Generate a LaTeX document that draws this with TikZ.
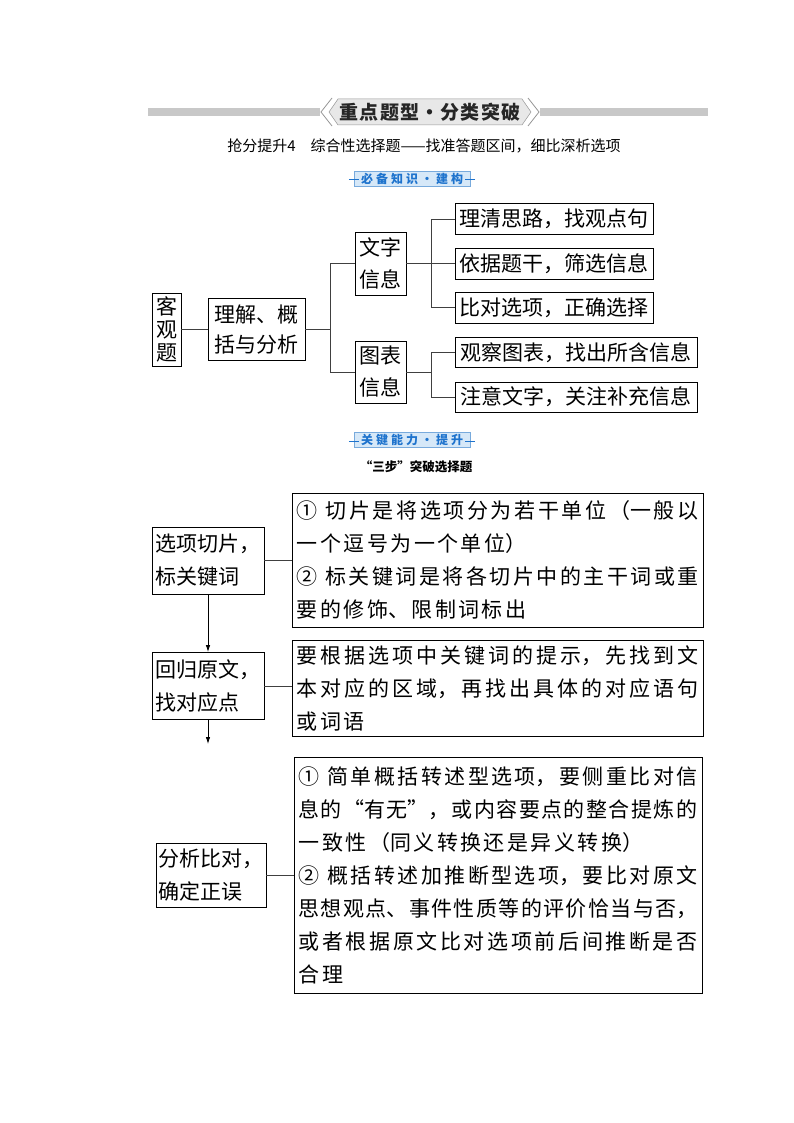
\documentclass[tikz,border=0pt]{standalone}
\usepackage{fontspec}
\newfontfamily\cjk{Noto Sans CJK SC}
\usetikzlibrary{arrows.meta}
\XeTeXlinebreaklocale "zh"
\definecolor{barg}{RGB}{200,200,200}
\definecolor{banfill}{RGB}{232,232,232}
\definecolor{banline}{RGB}{150,150,150}
\definecolor{lbfill}{RGB}{214,232,248}
\definecolor{lbline}{RGB}{120,170,220}
\definecolor{lbtext}{RGB}{30,115,205}
\newcommand\lsk[1]{\XeTeXlinebreakskip=#1\relax}
\newcommand\gp{\hspace{3pt}}
\newcommand\cs{\hspace{8pt}}
\begin{document}
\begin{tikzpicture}[x=1pt,y=-1pt,
  box/.style={draw=black, line width=0.9pt, inner sep=0pt, align=center,
    font={\cjk\fontsize{21}{23}\selectfont}},
  leaf/.style={box, minimum height=31pt},
  stepbox/.style={draw=black, line width=0.9pt, inner xsep=3.5pt, inner ysep=0pt,
    text width=105pt, minimum height=67pt, align=left,
    font={\cjk\fontsize{21}{33}\selectfont}},
  txtbox/.style={draw=black, line width=0.9pt, inner xsep=4.5pt, inner ysep=0pt,
    align=justify,
    font={\cjk\fontsize{21}{33}\selectfont\lsk{2.5pt plus 3pt minus 2pt}}},
  conn/.style={draw=black!75, line width=0.8pt},
  arr/.style={draw=black, line width=0.8pt, -{Latex[length=7pt,width=4.5pt]}},
  lbl/.style={fill=lbfill, draw=lbline, line width=0.4pt, minimum width=116pt,
    minimum height=15pt, inner sep=0pt, text=lbtext,
    font={\cjk\bfseries\fontsize{12}{12}\selectfont}}
]
\useasboundingbox (0,0) rectangle (794,1123);

% ---------- header ----------
\fill[barg] (148,108) rectangle (320,116);
\fill[barg] (540,108) rectangle (708,116);
\draw[banline, fill=banfill, line width=0.5pt] (338,99) -- (522,99) -- (531,112) -- (522,125) -- (338,125) -- (329,112) -- cycle;
\draw[banline, line width=0.8pt] (332,98) -- (321,112) -- (332,126);
\draw[banline, line width=0.8pt] (528,98) -- (539,112) -- (528,126);
\node[font={\cjk\bfseries\fontsize{19}{19}\selectfont}, text=black!85] (title) at (430,112) {重\hspace{1.2pt}点\hspace{1.2pt}题\hspace{1.2pt}型\hspace{1.2pt}·\hspace{1.2pt}分\hspace{1.2pt}类\hspace{1.2pt}突\hspace{1.2pt}破};
\node[font={\cjk\fontsize{15}{15}\selectfont}] (sub) at (424,146) {抢分提升4　综合性选择题——找准答题区间，细比深析选项};

% ---------- section 1 label ----------
\node[lbl] (lbl1) at (412,178.5) {必\gp 备\gp 知\gp 识\gp·\gp 建\gp 构};
\draw[lbtext, line width=0.6pt] ([xshift=-5pt,yshift=-1pt]lbl1.west) -- ++(10,0);
\draw[lbtext, line width=0.6pt] ([xshift=5pt,yshift=-1pt]lbl1.east) -- ++(-10,0);

% ---------- tree ----------
\node[box, minimum width=29pt, minimum height=73pt] (kg) at (166.5,329.5) {客\\观\\题};
\node[box, minimum width=97pt, minimum height=62pt, font={\cjk\fontsize{21}{30}\selectfont}] (lj) at (256.5,329.5) {理解、概\\括与分析};
\node[box, minimum width=51pt, minimum height=63pt, font={\cjk\fontsize{21}{32}\selectfont}] (wz) at (380.5,263.5) {文字\\信息};
\node[box, minimum width=51pt, minimum height=62pt, font={\cjk\fontsize{21}{32}\selectfont}] (tb) at (380.5,372) {图表\\信息};

\node[leaf, minimum width=198pt] (a1) at (554,219) {理清思路，找观点句};
\node[leaf, minimum width=198pt] (a2) at (554,263.5) {依据题干，筛选信息};
\node[leaf, minimum width=198pt] (a3) at (554,307.5) {比对选项，正确选择};
\node[leaf, minimum width=242pt, minimum height=30pt] (b1) at (576,352.5) {观察图表，找出所含信息};
\node[leaf, minimum width=242pt, minimum height=30pt] (b2) at (576,397) {注意文字，关注补充信息};

\coordinate (j1) at (330,329.5);
\coordinate (j2) at (431,263.5);
\coordinate (j3) at (431,372);
\draw[conn] (kg.east) -- (lj.west);
\draw[conn] (lj.east) -- (j1);
\draw[conn] (wz.west) -- (wz.west -| j1) -- (tb.west -| j1) -- (tb.west);
\draw[conn] (wz.east) -- (a2.west);
\draw[conn] (a1.west) -- (a1.west -| j2) -- (a3.west -| j2) -- (a3.west);
\draw[conn] (tb.east) -- (j3);
\draw[conn] (b1.west) -- (b1.west -| j3) -- (b2.west -| j3) -- (b2.west);

% ---------- section 2 label ----------
\node[lbl] (lbl2) at (412,440) {关\gp 键\gp 能\gp 力\gp·\gp 提\gp 升};
\draw[lbtext, line width=0.6pt] ([xshift=-5pt,yshift=-1pt]lbl2.west) -- ++(10,0);
\draw[lbtext, line width=0.6pt] ([xshift=5pt,yshift=-1pt]lbl2.east) -- ++(-10,0);
\node[font={\cjk\bfseries\fontsize{12.5}{12}\selectfont}] (sub2) at (416,467) {“三步”突破选择题};

% ---------- flow ----------
\node[stepbox] (sA) at (208,560.5) {选项切片，\\标关键词};
\node[stepbox] (sB) at (208,686) {回归原文，\\找对应点};
\node[stepbox, inner xsep=2.5pt, minimum height=64pt] (sC) at (211,875) {分析比对，\\确定正误};

\node[txtbox, text width=402pt, minimum height=134pt] (tA) at (497.5,560) {①\cs 切片是将选项分为若干单位（一般以\linebreak 一个逗号为一个单位）\par ②\cs 标关键词是将各切片中的主干词或重\linebreak 要的修饰、限制词标出};
\node[txtbox, text width=402pt, minimum height=96pt] (tB) at (497.5,688) {要根据选项中关键词的提示，先找到文\linebreak 本对应的区域，再找出具体的对应语句\linebreak 或词语};
\node[txtbox, text width=399pt, minimum height=236pt] (tC) at (498,875) {①\cs 简单概括转述型选项，要侧重比对信\linebreak 息的“有无”，或内容要点的整合提炼的\linebreak 一致性（同义转换还是异义转换）\par ②\cs 概括转述加推断型选项，要比对原文\linebreak 思想观点、事件性质等的评价恰当与否，\linebreak 或者根据原文比对选项前后间推断是否\linebreak 合理};

\draw[conn] (sA.east) -- (sA.east -| tA.west);
\draw[conn] (sB.east) -- (sB.east -| tB.west);
\draw[conn] (sC.east) -- (sC.east -| tC.west);
\coordinate (ae) at (208,744);
\draw[arr] (sA.south) -- (sB.north);
\draw[arr] (sB.south) -- (ae);
\end{tikzpicture}
\end{document}
